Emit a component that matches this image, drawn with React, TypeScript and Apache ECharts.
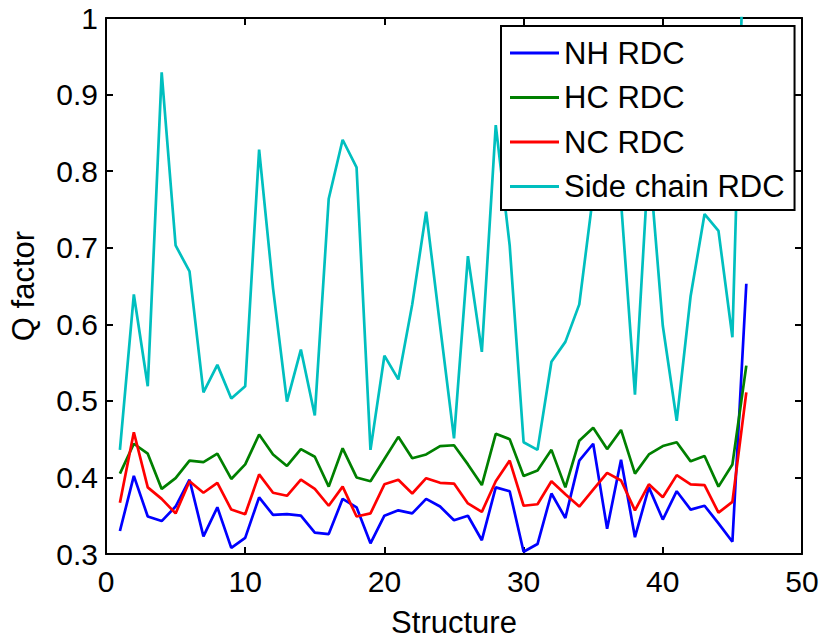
import React, { useEffect, useRef } from "react";
import * as echarts from "echarts";

const structures = Array.from({ length: 46 }, (_, i) => i + 1);

const nhRdc = [
  0.330, 0.402, 0.349, 0.343, 0.362, 0.397, 0.323, 0.361, 0.308, 0.321,
  0.374, 0.351, 0.352, 0.350, 0.328, 0.326, 0.372, 0.361, 0.314, 0.350,
  0.357, 0.353, 0.372, 0.362, 0.344, 0.350, 0.318, 0.387, 0.382, 0.303,
  0.313, 0.379, 0.347, 0.422, 0.444, 0.333, 0.423, 0.322, 0.387, 0.345,
  0.382, 0.358, 0.363, 0.340, 0.316, 0.653,
];

const hcRdc = [
  0.405, 0.444, 0.431, 0.385, 0.399, 0.422, 0.420, 0.431, 0.398, 0.417,
  0.456, 0.430, 0.415, 0.437, 0.427, 0.388, 0.438, 0.400, 0.395, 0.424,
  0.453, 0.425, 0.430, 0.441, 0.442, 0.417, 0.390, 0.457, 0.450, 0.402,
  0.409, 0.436, 0.387, 0.448, 0.465, 0.437, 0.462, 0.405, 0.430, 0.441,
  0.446, 0.421, 0.428, 0.388, 0.417, 0.546,
];

const ncRdc = [
  0.367, 0.459, 0.387, 0.372, 0.353, 0.395, 0.380, 0.393, 0.358, 0.352,
  0.404, 0.380, 0.376, 0.397, 0.385, 0.363, 0.388, 0.349, 0.353, 0.391,
  0.397, 0.379, 0.399, 0.393, 0.392, 0.366, 0.355, 0.395, 0.422, 0.363,
  0.365, 0.395, 0.378, 0.362, 0.384, 0.406, 0.396, 0.357, 0.391, 0.374,
  0.403, 0.391, 0.390, 0.354, 0.368, 0.511,
];

const sideChainRdc = [
  0.436, 0.639, 0.519, 0.929, 0.703, 0.669, 0.511, 0.547, 0.503, 0.519,
  0.828, 0.647, 0.499, 0.567, 0.481, 0.764, 0.841, 0.805, 0.436, 0.559,
  0.528, 0.626, 0.747, 0.598, 0.451, 0.689, 0.564, 0.860, 0.703, 0.446,
  0.436, 0.551, 0.577, 0.626, 0.770, 0.880, 0.760, 0.508, 0.820, 0.598,
  0.474, 0.637, 0.744, 0.722, 0.583, 1.220,
];

const seriesNames = ["NH RDC", "HC RDC", "NC RDC", "Side chain RDC"];
const seriesColors = ["#0000ff", "#008000", "#ff0000", "#00bfbf"];
const seriesValues = [nhRdc, hcRdc, ncRdc, sideChainRdc];

const FONT = "'Liberation Sans', Arial, Helvetica, sans-serif";

export default function App() {
  const ref = useRef<HTMLDivElement>(null);

  useEffect(() => {
    if (!ref.current) return;
    const chart = echarts.init(ref.current, undefined, { renderer: "svg" });

    const axisLine = { show: true, onZero: false, lineStyle: { color: "#000", width: 2 } };
    const axisTick = { show: true, inside: true, length: 7, lineStyle: { color: "#000", width: 2 } };

    chart.setOption({
      animation: false,
      backgroundColor: "#fff",
      grid: { left: 100, right: 20, top: 18, bottom: 79, containLabel: false },
      xAxis: [
        {
          type: "value",
          min: 0,
          max: 50,
          interval: 10,
          position: "bottom",
          name: "Structure",
          nameLocation: "middle",
          nameGap: 53,
          nameTextStyle: { fontFamily: FONT, fontSize: 31, color: "#000" },
          axisLine,
          axisTick,
          splitLine: { show: false },
          axisLabel: { fontFamily: FONT, fontSize: 30, color: "#000", margin: 12 },
        },
        {
          type: "value",
          min: 0,
          max: 50,
          interval: 10,
          position: "top",
          axisLine,
          axisTick,
          splitLine: { show: false },
          axisLabel: { show: false },
        },
      ],
      yAxis: [
        {
          type: "value",
          min: 0.3,
          max: 1,
          interval: 0.1,
          position: "left",
          name: "Q factor",
          nameLocation: "middle",
          nameRotate: 90,
          nameGap: 67,
          nameTextStyle: { fontFamily: FONT, fontSize: 31, color: "#000" },
          axisLine,
          axisTick,
          splitLine: { show: false },
          axisLabel: { fontFamily: FONT, fontSize: 30, color: "#000", margin: 8 },
        },
        {
          type: "value",
          min: 0.3,
          max: 1,
          interval: 0.1,
          position: "right",
          axisLine,
          axisTick,
          splitLine: { show: false },
          axisLabel: { show: false },
        },
      ],
      legend: {
        orient: "vertical",
        left: 501,
        top: 26,
        padding: [11, 10, 7.5, 9],
        z: 5,
        icon: "rect",
        itemWidth: 49,
        itemHeight: 3,
        itemGap: 12.5,
        backgroundColor: "#fff",
        borderColor: "#000",
        borderWidth: 2,
        borderRadius: 0,
        data: seriesNames,
        textStyle: { fontFamily: FONT, fontSize: 31, color: "#000", lineHeight: 32, height: 32 },
      },
      series: seriesNames.map((name, k) => ({
        name,
        type: "line",
        xAxisIndex: 0,
        yAxisIndex: 0,
        symbol: "none",
        clip: true,
        color: seriesColors[k],
        lineStyle: { color: seriesColors[k], width: 2.7 },
        data: structures.map((s, i) => [s, seriesValues[k][i]]),
      })),
    });

    return () => chart.dispose();
  }, []);

  return (
    <div
      ref={ref}
      style={{ position: "fixed", left: 0, top: 0, width: 822, height: 643 }}
    />
  );
}
